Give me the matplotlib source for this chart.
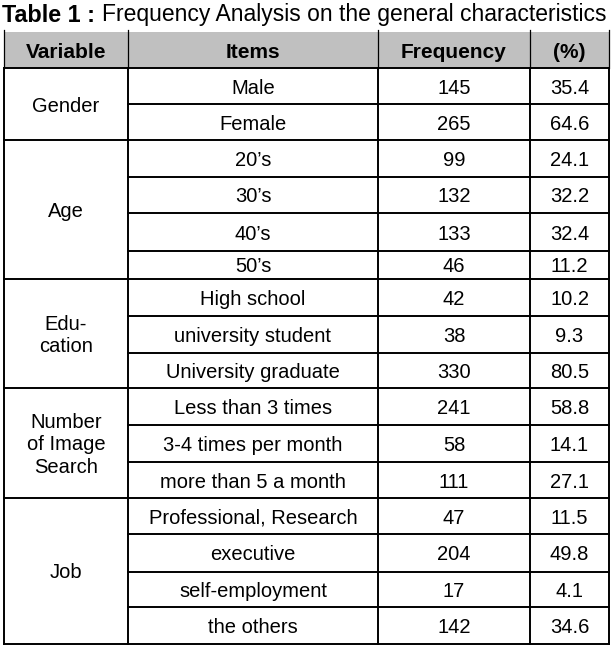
import matplotlib.pyplot as plt

plt.rcParams["font.family"] = ["Liberation Sans", "DejaVu Sans"]

headers = ["Variable", "Items", "Frequency", "(%)"]
groups = ["Gender", "Age", "Edu-\ncation", "Number\nof Image\nSearch", "Job"]
group_sizes = [2, 4, 3, 3, 4]
items = [
    "Male", "Female",
    "20\u2019s", "30\u2019s", "40\u2019s", "50\u2019s",
    "High school", "university student", "University graduate",
    "Less than 3 times", "3-4 times per month", "more than 5 a month",
    "Professional, Research", "executive", "self-employment", "the others",
]
frequency = [145, 265, 99, 132, 133, 46, 42, 38, 330, 241, 58, 111, 47, 204, 17, 142]
percent = [35.4, 64.6, 24.1, 32.2, 32.4, 11.2, 10.2, 9.3, 80.5, 58.8, 14.1, 27.1,
           11.5, 49.8, 4.1, 34.6]

# layout in pixels
col_x = [4, 128, 378, 530, 609]
row_y = [32, 68, 104, 140, 177, 213, 251, 279, 316, 353, 388, 425, 462, 498,
         534, 572, 607, 644]

fig = plt.figure(figsize=(6.13, 6.47), dpi=100)
ax = fig.add_axes([0, 0, 1, 1])
ax.set_xlim(0, 613)
ax.set_ylim(647, 0)
ax.axis("off")

ax.text(2, 15, "Table 1 :", fontsize=16.8, fontweight="bold", va="center", ha="left")
ax.text(102, 15, "Frequency Analysis on the general characteristics",
        fontsize=16.5, va="center", ha="left")

# header background
ax.fill_between([col_x[0], col_x[-1]], row_y[0], row_y[1], color="#c0c0c0", lw=0)

lw = 1.4
fs = 14.5
cx = [(col_x[i] + col_x[i + 1]) / 2 for i in range(4)]
for i, h in enumerate(headers):
    ax.text(cx[i], (row_y[0] + row_y[1]) / 2 + 2, h, fontsize=15,
            fontweight="bold", ha="center", va="center")

# vertical lines
for x in col_x:
    ax.plot([x, x], [row_y[0] - 2, row_y[1]], color="black", lw=0.9)
    ax.plot([x, x], [row_y[1], row_y[-1]], color="black", lw=lw)

ax.plot([col_x[0], col_x[-1]], [row_y[1], row_y[1]], color="black", lw=lw)

start = 0
for g, n in zip(groups, group_sizes):
    top = row_y[1 + start]
    bottom = row_y[1 + start + n]
    ax.plot([col_x[0], col_x[-1]], [bottom, bottom], color="black", lw=lw)
    for k in range(1, n):
        y = row_y[1 + start + k]
        ax.plot([col_x[1], col_x[-1]], [y, y], color="black", lw=lw)
    ax.text(cx[0], (top + bottom) / 2 + 2, g, fontsize=fs, ha="center",
            va="center", linespacing=1.25)
    start += n

for r in range(len(items)):
    yc = (row_y[1 + r] + row_y[2 + r]) / 2 + 2
    ax.text(cx[1], yc, items[r], fontsize=fs, ha="center", va="center")
    ax.text(cx[2], yc, str(frequency[r]), fontsize=fs, ha="center", va="center")
    ax.text(cx[3], yc, f"{percent[r]:.1f}", fontsize=fs, ha="center", va="center")

fig.savefig("out.png", dpi=100)
